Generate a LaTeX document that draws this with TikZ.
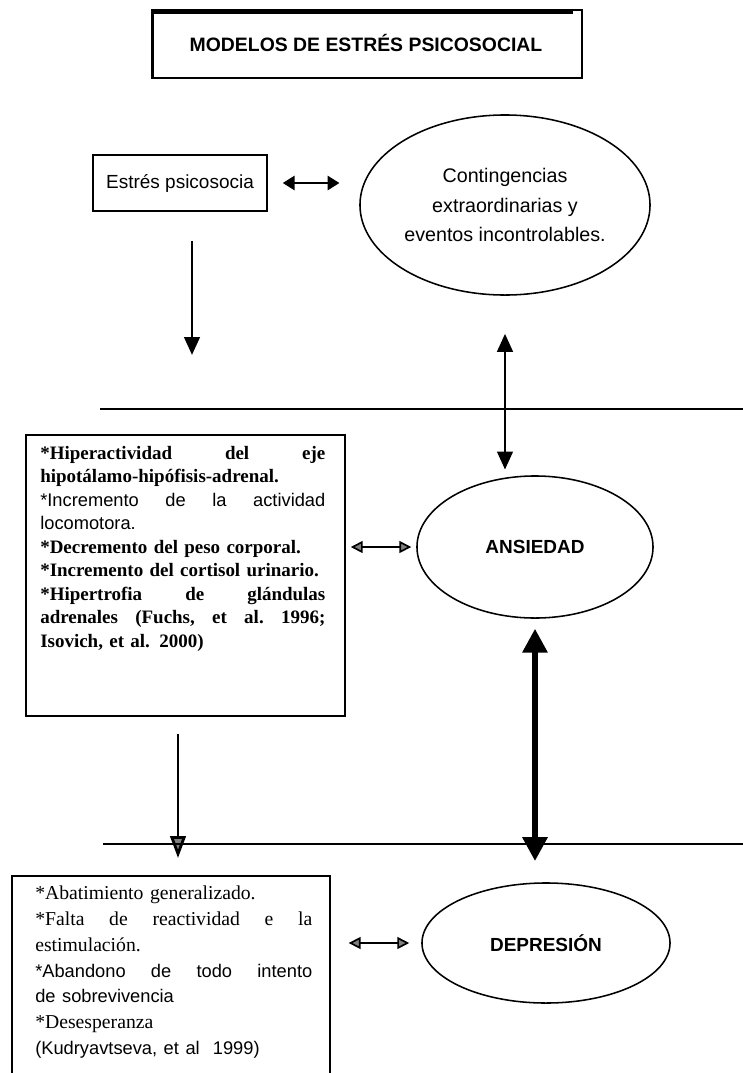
\documentclass[tikz,border=0pt]{standalone}
\usepackage{fontspec}
\setmainfont{Liberation Serif}
\setsansfont{Liberation Sans}
\usetikzlibrary{arrows.meta,calc,positioning,shapes.geometric}

\tikzset{
	caja/.style={draw, rectangle, line width=1.1pt, inner sep=0pt},
	globo/.style={draw, ellipse, line width=1.1pt, inner sep=0pt, font=\sffamily\fontsize{14}{21.3}\selectfont, align=center},
	rotulo/.style={font=\sffamily\bfseries\fontsize{13.5}{16}\selectfont},
	texto/.style={anchor=north west, inner sep=0pt, align=left},
	divisoria/.style={line width=1.1pt},
	flecha/.style={line width=2pt, {Triangle[length=8.5pt,width=10pt]}-{Triangle[length=8.5pt,width=10pt]}},
	flechalarga/.style={line width=2pt, {Triangle[length=12.8pt,width=11pt]}-{Triangle[length=12.8pt,width=11pt]}},
	flechagruesa/.style={line width=4.3pt, {Triangle[length=17pt,width=17pt]}-{Triangle[length=17pt,width=17pt]}},
	flechahueca/.style={line width=1.2pt, {Triangle[length=8.5pt,width=8.5pt,fill=gray]}-{Triangle[length=8.5pt,width=8.5pt,fill=gray]}}
}
\newcommand{\palo}{\sffamily\fontsize{13}{18.3}\selectfont}

\begin{document}
\begin{tikzpicture}[x=0.025cm, y=-0.025cm]
		%%%%% START %%%%%
		\useasboundingbox (0,0) rectangle (743,1073);

		% titulo
		\node[caja, minimum width=10.725cm, minimum height=1.7cm] (titulo) at (367.5,44) {};
		\node[font=\sffamily\bfseries\fontsize{13.8}{16}\selectfont] (titulotxt) at (366,43) {MODELOS DE ESTRÉS PSICOSOCIAL};
		\draw[line width=3.5pt] (153,12) -- (573,12);
		\draw[line width=1.8pt] (titulo.north west) -- (titulo.south west);

		% primer nivel
		\node[caja, minimum width=4.35cm, minimum height=1.4cm, font=\sffamily\fontsize{13.5}{16}\selectfont] (estres) at (180,183) {Estrés psicosocia};
		\node[globo, minimum width=7.25cm, minimum height=4.5cm] (conting) at (505,205) {Contingencias\\extraordinarias y\\eventos incontrolables.};
		\draw[flecha, shorten <=10.6pt, shorten >=14pt] (estres.east) -- (estres.east -| conting.west);

		\coordinate (bajada) at (192,355);
		\draw[line width=2.1pt, -{Triangle[length=12.8pt,width=11pt]}] (estres.south -| bajada) ++(0,29) -- (bajada);

		\draw[divisoria] (100,409) -- (743,409);

		% segundo nivel
		\node[caja, minimum width=7.975cm, minimum height=7.025cm] (sint1) at (185.5,575.5) {};
		\node[texto, text width=7.125cm, font=\bfseries\fontsize{13.5}{16.7}\selectfont] (sint1txt) at (40,446) {%
			{*}Hiperactividad\hfill del\hfill eje\\
			hipotálamo-hipófisis-adrenal.\\
			{\mdseries\palo{*}Incremento\hfill de\hfill la\hfill actividad}\\
			{\mdseries\palo locomotora.}\\
			{*}Decremento del peso corporal.\\
			{*}Incremento del cortisol urinario.\\
			{*}Hipertrofia\hfill de\hfill glándulas\\
			adrenales\hfill (Fuchs,\hfill et\hfill al.\hfill 1996;\\
			Isovich, et al. 2000)};
		\node[globo, rotulo, minimum width=5.9cm, minimum height=3.55cm] (ansiedad) at (535,547) {ANSIEDAD};

		\draw[flechalarga, shorten <=27pt, shorten >=4pt] (conting.south) -- (conting.south |- ansiedad.north);
		\draw[flechahueca, shorten <=3.5pt, shorten >=3.5pt] (sint1.east |- ansiedad.west) -- (ansiedad.west);

		\coordinate (caida) at (178,858);
		\draw[line width=2pt, -{Triangle[length=15.6pt,width=11pt,fill=gray]}] (sint1.south -| caida) ++(0,17) -- (caida);

		\draw[divisoria] (103,844) -- (743,844);

		% tercer nivel
		\node[caja, minimum width=7.95cm, minimum height=5.35cm] (sint2) at (171,983) {};
		\node[texto, text width=6.925cm, font=\fontsize{14}{18.3}\selectfont] (sint2txt) at (35,886) {%
			{*}Abatimiento generalizado.\\
			{*}Falta\hfill de\hfill reactividad\hfill e\hfill la\\
			estimulación.\\
			{\palo{*}Abandono\hfill de\hfill todo\hfill intento}\\
			{\palo de sobrevivencia}\\
			{*}Desesperanza\\
			{\palo (Kudryavtseva, et al\ \ 1999)}};
		\node[globo, rotulo, minimum width=6.2cm, minimum height=3cm] (depresion) at (546,943) {DEPRESIÓN};

		\draw[flechagruesa, shorten <=7pt, shorten >=15pt] (ansiedad.south) -- (ansiedad.south |- depresion.north);
		\draw[flechahueca, shorten <=12.7pt, shorten >=8.5pt] (sint2.east |- depresion.west) -- (depresion.west);
		%%%%% END %%%%%
\end{tikzpicture}
\end{document}
